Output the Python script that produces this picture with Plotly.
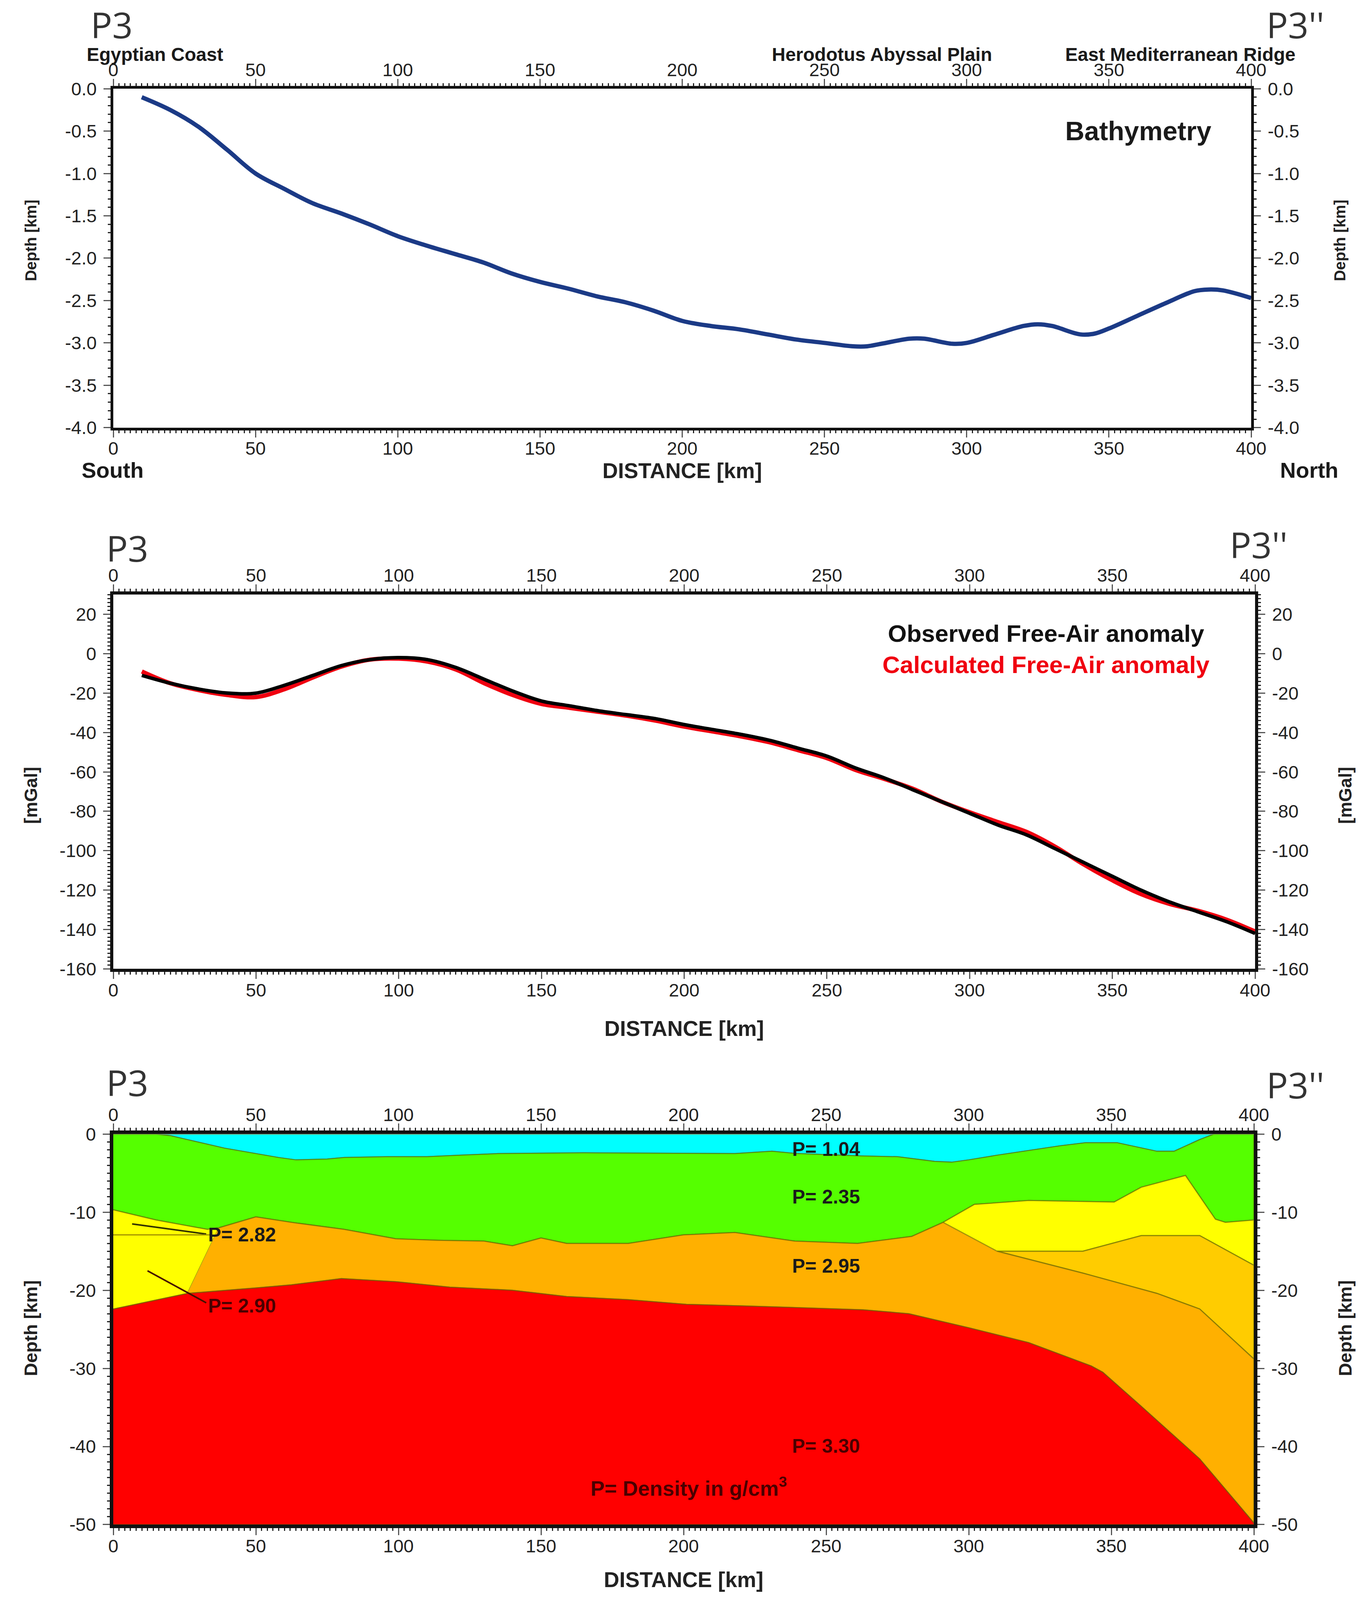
import plotly.graph_objects as go

W, H = 3497, 4561

# ---------- Panel 1: bathymetry ----------
bathy_x = [10,20,30,40,50,60,70,80,90,100,110,120,130,140,150,160,170,180,190,200,210,220,230,240,250,260,265,270,280,285,295,300,310,320,325,330,340,345,350,360,370,380,385,390,400]
bathy_y = [-0.1,-0.25,-0.45,-0.72,-1.0,-1.18,-1.35,-1.47,-1.6,-1.74,-1.85,-1.95,-2.05,-2.18,-2.28,-2.36,-2.45,-2.52,-2.62,-2.74,-2.8,-2.84,-2.9,-2.96,-3.0,-3.04,-3.04,-3.01,-2.95,-2.95,-3.01,-3.0,-2.9,-2.8,-2.78,-2.8,-2.9,-2.89,-2.83,-2.68,-2.53,-2.39,-2.37,-2.38,-2.47]

# ---------- Panel 2: free-air anomaly ----------
grav_x = [10,20,30,40,50,60,70,80,90,100,110,120,130,140,150,160,170,180,190,200,210,220,230,240,250,260,270,280,290,300,310,320,330,340,350,360,370,380,390,400]
observed = [-11,-15,-18,-20,-20,-16,-11,-6,-3,-2,-3,-7,-13,-19,-24,-26.5,-29,-31,-33,-36,-38.5,-41,-44,-48,-52,-58,-63,-69,-75,-81,-87,-92,-99,-106,-113,-120,-126,-131,-136,-142]
calculated = [-9,-15,-18.5,-21,-22,-18,-12,-6.5,-3,-2.5,-4,-8,-15,-21,-25.5,-27.5,-29.5,-31.5,-34,-37,-39.5,-42,-45,-49,-53,-59,-63.5,-68.5,-75,-80.5,-85.5,-90.5,-98,-107,-115,-122,-127,-130.5,-135,-141]

# ---------- Panel 3: density model interfaces ----------
seabed_x = [0,15,20,39,58,64,75,81,96,110,122,135,165,195,218,231,240,262,275,288,294,300,310,332,341,352,362,366,372,381,386,400]
seabed_y = [0,0,-0.2,-1.8,-3.0,-3.3,-3.2,-3.0,-2.9,-2.9,-2.7,-2.5,-2.4,-2.45,-2.5,-2.2,-2.5,-2.8,-2.9,-3.5,-3.6,-3.3,-2.7,-1.5,-1.1,-1.1,-1.9,-2.2,-2.2,-0.7,0,0]
sediment_x = [0,15,33,37,50,62.5,81,99,114,130,140,150,159,180.6,200,218,239,261,280,291,302,321,351,360.5,376,386.5,390,400]
sediment_y = [-9.7,-11,-12.2,-12,-10.6,-11.3,-12.2,-13.4,-13.6,-13.7,-14.3,-13.3,-14,-14,-12.9,-12.6,-13.7,-14,-13.1,-11.3,-9,-8.5,-8.7,-6.8,-5.3,-10.9,-11.3,-11]
moho_x = [0,26,50,62.5,80,99,118,140,159,180.6,201,221,247,263,279,300,321,343,347,360,381,400]
moho_y = [-22.4,-20.4,-19.7,-19.3,-18.5,-18.9,-19.6,-20,-20.8,-21.2,-21.8,-22,-22.3,-22.5,-23,-24.8,-26.7,-29.7,-30.5,-34.7,-41.6,-49.8]
west_wedge_x = [37,26]
west_wedge_y = [-12,-20.4]
east_upper_x = [310,340,360.5,381,400]
east_upper_y = [-15,-15,-13,-13,-16.8]
east_lower_x = [310,340,366,381,400]
east_lower_y = [-15,-17.8,-20.4,-22.4,-28.8]
leader_a_x, leader_a_y = [6.6,32.6], [-11.5,-12.8]
leader_b_x, leader_b_y = [12,32.6], [-17.5,-21.6]
marker_line_x, marker_line_y = [0,34], [-12.9,-12.9]
model_floor = -50

# ---------- Ticks ----------
x_ticks = [0,50,100,150,200,250,300,350,400]
x_labels = ["0","50","100","150","200","250","300","350","400"]
y1_ticks = [0,-0.5,-1,-1.5,-2,-2.5,-3,-3.5,-4]
y1_labels = ["0.0","-0.5","-1.0","-1.5","-2.0","-2.5","-3.0","-3.5","-4.0"]
y2_ticks = [20,0,-20,-40,-60,-80,-100,-120,-140,-160]
y2_labels = ["20","0","-20","-40","-60","-80","-100","-120","-140","-160"]
y3_ticks = [0,-10,-20,-30,-40,-50]
y3_labels = ["0","-10","-20","-30","-40","-50"]

FONT = "Liberation Sans"
TICK = dict(family=FONT, size=47, color="#222222")
fig = go.Figure()

def px_x(p): return p / W
def px_y(p): return 1 - p / H

def panel(n, box, yrange, yticks, ylabels, yminor, xstand, lw):
    l, r, t, b = box
    xd = [px_x(l), px_x(r)]
    yd = [px_y(b), px_y(t)]
    common = dict(ticks="outside", ticklen=18, tickwidth=3, tickcolor="#555555", showgrid=False,
                  zeroline=False, showline=True, linecolor="#111111", tickfont=TICK, automargin=False)
    xa = dict(common, domain=xd, range=[0,400], tickvals=x_ticks, ticktext=x_labels, linewidth=lw, ticklabelstandoff=-12,
              minor=dict(dtick=2, ticks="outside", ticklen=7, tickwidth=3, tickcolor="#222222", showgrid=False))
    ya = dict(common, domain=yd, range=yrange, tickvals=yticks, ticktext=ylabels, linewidth=lw, ticklabelstandoff=8,
              minor=dict(dtick=yminor, ticks="outside", ticklen=7, tickwidth=3, tickcolor="#222222", showgrid=False))
    s = "" if n == 1 else str(n)
    top = str(n + 3)
    xtitle = dict(text="DISTANCE [km]", font=dict(family=FONT, size=55, color="#222222", weight="bold"), standoff=xstand)
    fig.update_layout(**{
        "xaxis" + s: dict(xa, anchor="y" + s, side="bottom", title=xtitle),
        "yaxis" + s: dict(ya, anchor="x" + s, side="left"),
        "xaxis" + top: dict(xa, anchor="y" + s, overlaying="x" + s, side="top"),
        "yaxis" + top: dict(ya, anchor="x" + s, overlaying="y" + s, side="right"),
    })
    # an empty trace so that the overlaid top and right axes are drawn
    fig.add_trace(go.Scatter(x=[None], y=[None], xaxis="x" + top, yaxis="y" + top, showlegend=False, hoverinfo="skip"))

panel(1, (290,3203,253,1219), [-4,0], y1_ticks, y1_labels, 0.1, 12, 7)
panel(2, (290,3213,1695,2762), [-160,30], y2_ticks, y2_labels, 2, 57, 8)
panel(3, (290,3210,3233,4346), [-50,0], y3_ticks, y3_labels, 1, 45, 9)

# Panel 1 and 2 lines
fig.add_trace(go.Scatter(x=bathy_x, y=bathy_y, mode="lines", xaxis="x", yaxis="y", showlegend=False,
                         line=dict(color="#1B3A86", width=11, shape="spline", smoothing=1.0)))
fig.add_trace(go.Scatter(x=grav_x, y=calculated, mode="lines", xaxis="x2", yaxis="y2", showlegend=False,
                         line=dict(color="#F00010", width=11, shape="spline", smoothing=1.0)))
fig.add_trace(go.Scatter(x=grav_x, y=observed, mode="lines", xaxis="x2", yaxis="y2", showlegend=False,
                         line=dict(color="#000000", width=9, shape="spline", smoothing=1.0)))

# Panel 3 polygons
def pts(xs, ys, lo=-1e9, hi=1e9):
    return [(a, b) for a, b in zip(xs, ys) if lo <= a <= hi]

def poly(points, color):
    fig.add_trace(go.Scatter(x=[p[0] for p in points], y=[p[1] for p in points], mode="lines",
                             fill="toself", fillcolor=color, xaxis="x3", yaxis="y3", showlegend=False,
                             line=dict(color="rgba(90,95,0,0.55)", width=3)))

seabed = pts(seabed_x, seabed_y)
sediment = pts(sediment_x, sediment_y)
moho = pts(moho_x, moho_y)
east_upper = pts(east_upper_x, east_upper_y)
east_lower = pts(east_lower_x, east_lower_y)
wedge = pts(west_wedge_x, west_wedge_y)

poly(seabed + [(0, 0)], "#00FFFF")
poly(seabed + sediment[::-1], "#55FF00")
poly(pts(sediment_x, sediment_y, hi=37) + wedge[1:] + pts(moho_x, moho_y, hi=26)[::-1], "#FFFF00")
poly(pts(sediment_x, sediment_y, lo=291) + east_upper[::-1], "#FFFF00")
poly(east_upper + east_lower[::-1], "#FFCC00")
poly(pts(sediment_x, sediment_y, lo=37, hi=291) + east_lower + pts(moho_x, moho_y, lo=26)[::-1], "#FFB000")
poly(moho + [(400, model_floor), (0, model_floor)], "#FF0000")

for xs, ys, col, w in [(leader_a_x, leader_a_y, "#333300", 4), (leader_b_x, leader_b_y, "#441100", 4),
                       (marker_line_x, marker_line_y, "#A09000", 3)]:
    fig.add_trace(go.Scatter(x=xs, y=ys, mode="lines", xaxis="x3", yaxis="y3", showlegend=False,
                             line=dict(color=col, width=w)))

def note(text, x, y, size=50, color="#1A1A1A", weight="bold", family=FONT, angle=0):
    fig.add_annotation(text=text, xref="paper", yref="paper", x=px_x(x), y=px_y(y), showarrow=False,
                       xanchor="center", yanchor="middle", textangle=angle,
                       font=dict(family=family, size=size, color=color, weight=weight))

for t, x, y in [("P3", 286, 70), ("P3''", 3316, 70), ("P3", 326, 1562), ("P3''", 3222, 1552),
                ("P3", 326, 3085), ("P3''", 3316, 3092)]:
    note(t, x, y, size=92, color="#333333", weight="normal", family="Open Sans")

for t, x, y, s in [("Depth [km]", 79, 686, 40), ("Depth [km]", 3430, 686, 40),
                   ("[mGal]", 79, 2267, 46), ("[mGal]", 3444, 2267, 46),
                   ("Depth [km]", 79, 3787, 47), ("Depth [km]", 3444, 3787, 47)]:
    note(t, x, y, size=s, color="#222222", angle=-90)

note("Egyptian Coast", 396, 155, size=48)
note("Herodotus Abyssal Plain", 2258, 155, size=48)
note("East Mediterranean Ridge", 3022, 155, size=48)
note("Bathymetry", 2914, 373, size=68)
note("South", 288, 1340, size=56)
note("North", 3351, 1340, size=56)
note("Observed Free-Air anomaly", 2678, 1806, size=62, color="#111111")
note("Calculated Free-Air anomaly", 2678, 1895, size=62, color="#F00010")
note("P= 1.04", 2115, 3276)
note("P= 2.35", 2115, 3412)
note("P= 2.95", 2115, 3609)
note("P= 3.30", 2115, 4122, color="#4A0000")
note("P= 2.82", 620, 3520)
note("P= 2.90", 620, 3722, color="#4A0000")
note("P= Density in g/cm<sup>3</sup>", 1763, 4238, size=54, color="#4A0000")

fig.update_layout(autosize=True, margin=dict(l=0, r=0, t=0, b=0), paper_bgcolor="white",
                  plot_bgcolor="white", showlegend=False)
pre = "<style>html,body{margin:0;padding:0;height:100%;width:100%;overflow:hidden} body>div{height:100%;width:100%}</style>"
fig.write_html("out.html", default_width="100%", default_height="100%",
               config=dict(displayModeBar=False, responsive=True))
with open("out.html", encoding="utf-8") as f:
    page = f.read()
with open("out.html", "w", encoding="utf-8") as f:
    f.write(page.replace("<head>", "<head>" + pre, 1))
